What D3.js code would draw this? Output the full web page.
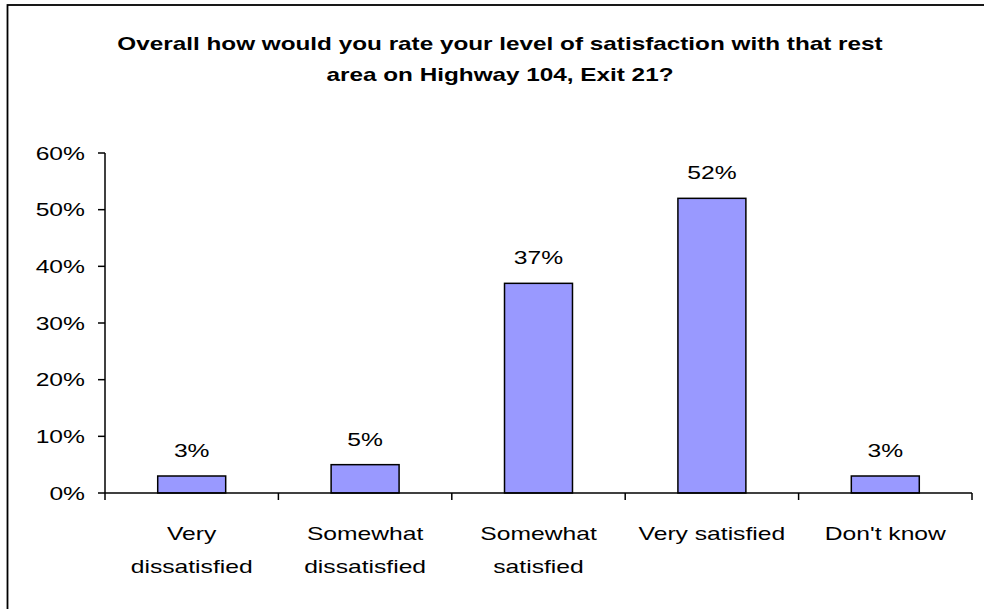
<!DOCTYPE html>
<html>
<head>
<meta charset="utf-8">
<script src="https://cdn.jsdelivr.net/npm/d3@7"></script>
<style>
  html, body { margin: 0; padding: 0; background: #fff; }
  svg { display: block; }
  text { font-family: "Liberation Sans", Arial, sans-serif; fill: #000; }
</style>
</head>
<body>
<svg id="chart" width="984" height="609"></svg>
<script>
const titleLines = ["Overall how would you rate your level of satisfaction with that rest", "area on Highway 104, Exit 21?"];
const categories = ["Very dissatisfied", "Somewhat dissatisfied", "Somewhat satisfied", "Very satisfied", "Don't know"];
const categoryLines = [["Very", "dissatisfied"], ["Somewhat", "dissatisfied"], ["Somewhat", "satisfied"], ["Very satisfied"], ["Don't know"]];
const values = [0.03, 0.05, 0.37, 0.52, 0.03];
const yTicks = [0, 0.1, 0.2, 0.3, 0.4, 0.5, 0.6];

(function () {
const SX = 1.37; // horizontal stretch of the original text
const svg = d3.select("#chart");
const fmt = d3.format(".0%");

// outer border (only left and top visible)
svg.append("rect").attr("x", 7.5).attr("y", 5).attr("width", 1100).attr("height", 800)
  .attr("fill", "none").attr("stroke", "#000").attr("stroke-width", 1.8);

const pLeft = 105, pRight = 972, pTop = 153, pBottom = 493;
const x = d3.scaleBand().domain(categories).range([pLeft, pRight]).paddingInner(0.608).paddingOuter(0.304);
const y = d3.scaleLinear().domain([0, 0.6]).range([pBottom, pTop]);

function stretchedText(g, tx, ty, str, anchor, opts = {}) {
  return g.append("text")
    .attr("transform", `translate(${tx},${ty}) scale(${opts.sx || SX},1)`)
    .attr("text-anchor", anchor)
    .attr("font-size", opts.size || 18)
    .attr("font-weight", opts.weight || "normal")
    .text(str);
}

// title
titleLines.forEach((t, i) => stretchedText(svg, 500, 50 + i * 31, t, "middle", { weight: "bold", size: 18, sx: 1.35 }));

// bars
svg.append("g").selectAll("rect").data(values).join("rect")
  .attr("x", (d, i) => x(categories[i]))
  .attr("y", d => y(d))
  .attr("width", x.bandwidth())
  .attr("height", d => y(0) - y(d))
  .attr("fill", "#9999FF")
  .attr("stroke", "#000")
  .attr("stroke-width", 1.5);

// data labels
const lg = svg.append("g");
values.forEach((v, i) => stretchedText(lg, x(categories[i]) + x.bandwidth() / 2, y(v) - 19, fmt(v), "middle"));

// y axis
const ax = svg.append("g").attr("stroke", "#000").attr("stroke-width", 1.5);
ax.append("line").attr("x1", pLeft).attr("x2", pLeft).attr("y1", y(0.6)).attr("y2", y(0));
yTicks.forEach(t => {
  ax.append("line").attr("x1", pLeft - 7).attr("x2", pLeft).attr("y1", y(t)).attr("y2", y(t));
});
const yl = svg.append("g");
yTicks.forEach(t => stretchedText(yl, 85, y(t) + 6.5, fmt(t), "end"));

// x axis
ax.append("line").attr("x1", pLeft).attr("x2", pRight).attr("y1", y(0)).attr("y2", y(0));
const boundaries = [pLeft].concat(categories.map(c => x(c) + x.bandwidth() + (x.step() - x.bandwidth()) / 2));
boundaries.forEach(b => {
  ax.append("line").attr("x1", b).attr("x2", b).attr("y1", y(0)).attr("y2", y(0) + 7);
});

// category labels
const cl = svg.append("g");
categoryLines.forEach((lines, i) => {
  const cx = x(categories[i]) + x.bandwidth() / 2;
  lines.forEach((ln, j) => stretchedText(cl, cx, 540 + j * 33, ln, "middle"));
});
})();
</script>
</body>
</html>
